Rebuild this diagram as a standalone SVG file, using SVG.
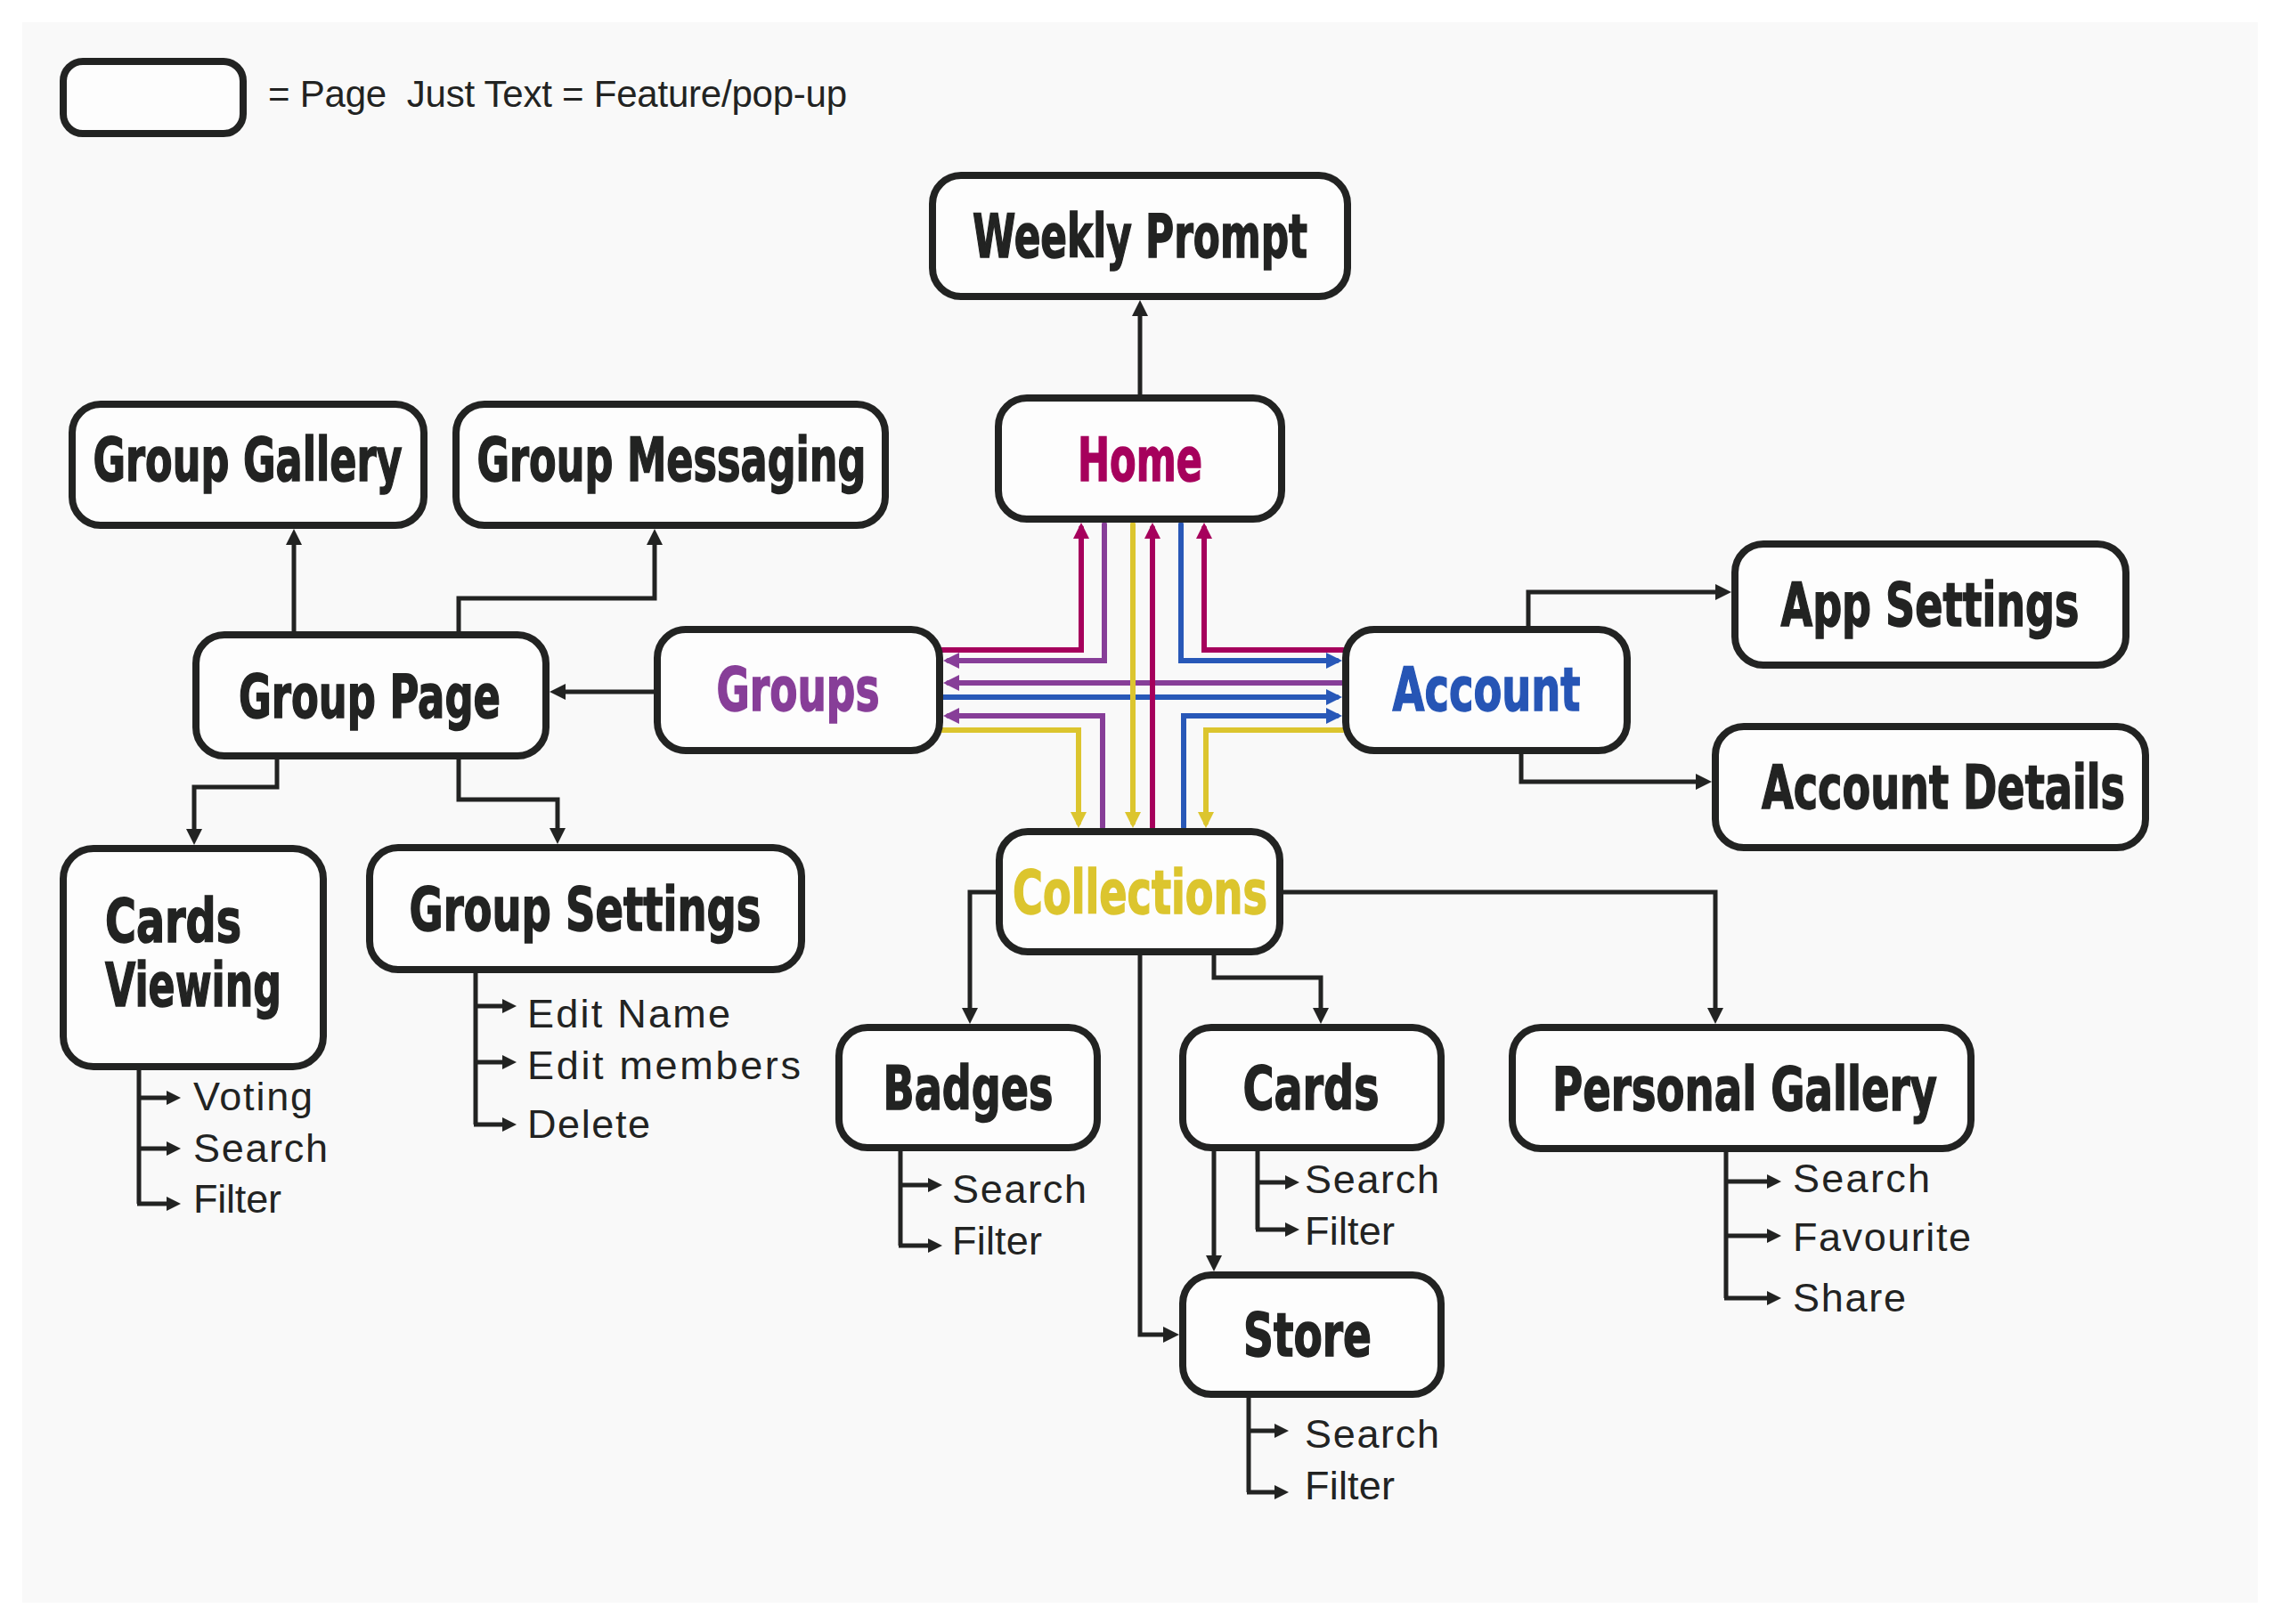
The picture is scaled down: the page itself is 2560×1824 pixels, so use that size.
<svg xmlns="http://www.w3.org/2000/svg" width="2560" height="1824" viewBox="0 0 2560 1824">
<style>
.node{fill:#fdfdfd;stroke:#222322;stroke-width:8}
.t{font-family:"Liberation Sans Narrow","DejaVu Sans Condensed","Liberation Sans",sans-serif;font-weight:bold;font-size:68px;fill:#222322;stroke:#222322;stroke-width:1.5;text-anchor:middle}
.s{font-family:"Liberation Sans","DejaVu Sans",sans-serif;font-size:45px;fill:#222322}
.c{fill:none;stroke:#222322;stroke-width:5;stroke-linejoin:miter}
.sub{fill:none;stroke:#222322;stroke-width:5}
.col{fill:none;stroke-width:6;stroke-linecap:round;stroke-linejoin:miter}
.mg{stroke:#a6005c}.pu{stroke:#873e98}.ye{stroke:#dcc52e}.bl{stroke:#2858b8}
.tmg{fill:#a6005c;stroke:#a6005c}.tpu{fill:#873e98;stroke:#873e98}.tye{fill:#dcc52e;stroke:#dcc52e}.tbl{fill:#2655b5;stroke:#2655b5}
</style>
<defs>
<marker id="ab" viewBox="0 0 18 18" refX="12" refY="9" markerWidth="18" markerHeight="18" markerUnits="userSpaceOnUse" orient="auto"><path d="M0,0 L18,9 L0,18 z" fill="#222322"/></marker>
<marker id="as" viewBox="0 0 16 16" refX="10" refY="8" markerWidth="16" markerHeight="16" markerUnits="userSpaceOnUse" orient="auto"><path d="M0,0 L16,8 L0,16 z" fill="#222322"/></marker>
<marker id="amg" viewBox="0 0 18 18" refX="12" refY="9" markerWidth="18" markerHeight="18" markerUnits="userSpaceOnUse" orient="auto"><path d="M0,0 L18,9 L0,18 z" fill="#a6005c"/></marker>
<marker id="apu" viewBox="0 0 18 18" refX="12" refY="9" markerWidth="18" markerHeight="18" markerUnits="userSpaceOnUse" orient="auto"><path d="M0,0 L18,9 L0,18 z" fill="#873e98"/></marker>
<marker id="aye" viewBox="0 0 18 18" refX="12" refY="9" markerWidth="18" markerHeight="18" markerUnits="userSpaceOnUse" orient="auto"><path d="M0,0 L18,9 L0,18 z" fill="#dcc52e"/></marker>
<marker id="abl" viewBox="0 0 18 18" refX="12" refY="9" markerWidth="18" markerHeight="18" markerUnits="userSpaceOnUse" orient="auto"><path d="M0,0 L18,9 L0,18 z" fill="#2858b8"/></marker>
</defs>
<rect x="0" y="0" width="2560" height="1824" fill="#ffffff"/>
<rect x="25" y="25" width="2510" height="1775" fill="#f9f9f9"/>

<g id="legend">
<rect class="node" x="71" y="69" width="202" height="81" rx="22"/>
<text class="s" x="301" y="120" textLength="650" xml:space="preserve" style="white-space:pre;font-size:42px">= Page  Just Text = Feature/pop-up</text>
</g>

<g id="connectors">
<path class="c" d="M1280,443 V343" marker-end="url(#ab)"/>
<path class="c" d="M734,777 H623" marker-end="url(#ab)"/>
<path class="c" d="M330,709 V600" marker-end="url(#ab)"/>
<path class="c" d="M515,709 V672 H735 V600" marker-end="url(#ab)"/>
<path class="c" d="M311,853 V884 H218 V943" marker-end="url(#ab)"/>
<path class="c" d="M515,853 V898 H626 V942" marker-end="url(#ab)"/>
<path class="c" d="M1716,703 V665 H1938" marker-end="url(#ab)"/>
<path class="c" d="M1708,847 V878 H1916" marker-end="url(#ab)"/>
<path class="c" d="M1118,1002 H1089 V1144" marker-end="url(#ab)"/>
<path class="c" d="M1363,1073 V1098 H1483 V1144" marker-end="url(#ab)"/>
<path class="c" d="M1280,1073 V1499 H1318" marker-end="url(#ab)"/>
<path class="c" d="M1363,1293 V1422" marker-end="url(#ab)"/>
<path class="c" d="M1441,1002 H1926 V1144" marker-end="url(#ab)"/>

<path class="sub" d="M534,1093 V1263"/>
<path class="sub" d="M534,1130 H574" marker-end="url(#as)"/>
<path class="sub" d="M534,1193 H574" marker-end="url(#as)"/>
<path class="sub" d="M532,1263 H574" marker-end="url(#as)"/>
<path class="sub" d="M156,1202 V1352"/>
<path class="sub" d="M156,1233 H197" marker-end="url(#as)"/>
<path class="sub" d="M156,1290 H197" marker-end="url(#as)"/>
<path class="sub" d="M154,1352 H197" marker-end="url(#as)"/>
<path class="sub" d="M1011,1293 V1399"/>
<path class="sub" d="M1011,1331 H1052" marker-end="url(#as)"/>
<path class="sub" d="M1009,1399 H1052" marker-end="url(#as)"/>
<path class="sub" d="M1412,1293 V1381"/>
<path class="sub" d="M1412,1328 H1453" marker-end="url(#as)"/>
<path class="sub" d="M1410,1381 H1453" marker-end="url(#as)"/>
<path class="sub" d="M1402,1570 V1676"/>
<path class="sub" d="M1402,1607 H1441" marker-end="url(#as)"/>
<path class="sub" d="M1400,1676 H1441" marker-end="url(#as)"/>
<path class="sub" d="M1938,1290 V1458"/>
<path class="sub" d="M1938,1327 H1994" marker-end="url(#as)"/>
<path class="sub" d="M1938,1388 H1994" marker-end="url(#as)"/>
<path class="sub" d="M1936,1458 H1994" marker-end="url(#as)"/>

<path class="col pu" d="M1508,767 H1065" marker-end="url(#apu)"/>
<path class="col bl" d="M1057,783 H1501" marker-end="url(#abl)"/>
<path class="col ye" d="M1272,589 V924" marker-end="url(#aye)"/>
<path class="col mg" d="M1294,929 V593" marker-end="url(#amg)"/>
<path class="col mg" d="M1057,730 H1214 V593" marker-end="url(#amg)"/>
<path class="col pu" d="M1240,589 V742 H1065" marker-end="url(#apu)"/>
<path class="col pu" d="M1238,929 V804 H1065" marker-end="url(#apu)"/>
<path class="col ye" d="M1057,820 H1211 V924" marker-end="url(#aye)"/>
<path class="col bl" d="M1326,589 V742 H1501" marker-end="url(#abl)"/>
<path class="col mg" d="M1508,730 H1352 V593" marker-end="url(#amg)"/>
<path class="col bl" d="M1329,929 V804 H1501" marker-end="url(#abl)"/>
<path class="col ye" d="M1508,820 H1354 V924" marker-end="url(#aye)"/>
</g>

<g id="weekly-prompt"><rect class="node" x="1047" y="197" width="466" height="136" rx="32"/><text class="t" x="1280" y="289" textLength="376" lengthAdjust="spacingAndGlyphs">Weekly Prompt</text></g>
<g id="home"><rect class="node" x="1121" y="447" width="318" height="136" rx="32"/><text class="t tmg" x="1280" y="540" textLength="140" lengthAdjust="spacingAndGlyphs">Home</text></g>
<g id="groups"><rect class="node" x="738" y="707" width="317" height="136" rx="32"/><text class="t tpu" x="896" y="798" textLength="183" lengthAdjust="spacingAndGlyphs">Groups</text></g>
<g id="account"><rect class="node" x="1511" y="707" width="316" height="136" rx="32"/><text class="t tbl" x="1669" y="798" textLength="211" lengthAdjust="spacingAndGlyphs">Account</text></g>
<g id="collections"><rect class="node" x="1122" y="934" width="315" height="135" rx="32"/><text class="t tye" x="1280" y="1026" textLength="286" lengthAdjust="spacingAndGlyphs">Collections</text></g>
<g id="group-gallery"><rect class="node" x="81" y="454" width="395" height="136" rx="32"/><text class="t" x="278" y="540" textLength="347" lengthAdjust="spacingAndGlyphs">Group Gallery</text></g>
<g id="group-messaging"><rect class="node" x="512" y="454" width="482" height="136" rx="32"/><text class="t" x="754" y="540" textLength="437" lengthAdjust="spacingAndGlyphs">Group Messaging</text></g>
<g id="group-page"><rect class="node" x="220" y="713" width="393" height="136" rx="32"/><text class="t" x="415" y="806" textLength="294" lengthAdjust="spacingAndGlyphs">Group Page</text></g>
<g id="cards-viewing"><rect class="node" x="71" y="953" width="292" height="245" rx="34"/><text class="t" x="118" y="1058" textLength="153" lengthAdjust="spacingAndGlyphs" style="text-anchor:start">Cards</text><text class="t" x="118" y="1130" textLength="198" lengthAdjust="spacingAndGlyphs" style="text-anchor:start">Viewing</text></g>
<g id="group-settings"><rect class="node" x="415" y="952" width="485" height="137" rx="32"/><text class="t" x="657" y="1045" textLength="395" lengthAdjust="spacingAndGlyphs">Group Settings</text></g>
<g id="app-settings"><rect class="node" x="1948" y="611" width="439" height="136" rx="32"/><text class="t" x="2167" y="703" textLength="335" lengthAdjust="spacingAndGlyphs">App Settings</text></g>
<g id="account-details"><rect class="node" x="1926" y="816" width="483" height="136" rx="32"/><text class="t" x="2182" y="908" textLength="408" lengthAdjust="spacingAndGlyphs">Account Details</text></g>
<g id="badges"><rect class="node" x="942" y="1154" width="290" height="135" rx="32"/><text class="t" x="1087" y="1246" textLength="191" lengthAdjust="spacingAndGlyphs">Badges</text></g>
<g id="cards"><rect class="node" x="1328" y="1154" width="290" height="135" rx="32"/><text class="t" x="1472" y="1246" textLength="153" lengthAdjust="spacingAndGlyphs">Cards</text></g>
<g id="store"><rect class="node" x="1328" y="1432" width="290" height="134" rx="32"/><text class="t" x="1468" y="1523" textLength="144" lengthAdjust="spacingAndGlyphs">Store</text></g>
<g id="personal-gallery"><rect class="node" x="1698" y="1154" width="515" height="136" rx="32"/><text class="t" x="1959" y="1247" textLength="432" lengthAdjust="spacingAndGlyphs">Personal Gallery</text></g>

<g id="features">
<text class="s" x="592" y="1154" textLength="228">Edit Name</text>
<text class="s" x="592" y="1212" textLength="307">Edit members</text>
<text class="s" x="592" y="1278" textLength="138">Delete</text>
<text class="s" x="217" y="1247" textLength="134">Voting</text>
<text class="s" x="217" y="1305" textLength="151">Search</text>
<text class="s" x="217" y="1362" textLength="99">Filter</text>
<text class="s" x="1069" y="1351" textLength="151">Search</text>
<text class="s" x="1069" y="1409" textLength="101">Filter</text>
<text class="s" x="1465" y="1340" textLength="151">Search</text>
<text class="s" x="1465" y="1398" textLength="101">Filter</text>
<text class="s" x="1465" y="1626" textLength="151">Search</text>
<text class="s" x="1465" y="1684" textLength="101">Filter</text>
<text class="s" x="2013" y="1339" textLength="154">Search</text>
<text class="s" x="2013" y="1405" textLength="200">Favourite</text>
<text class="s" x="2013" y="1473" textLength="127">Share</text>
</g>
</svg>
